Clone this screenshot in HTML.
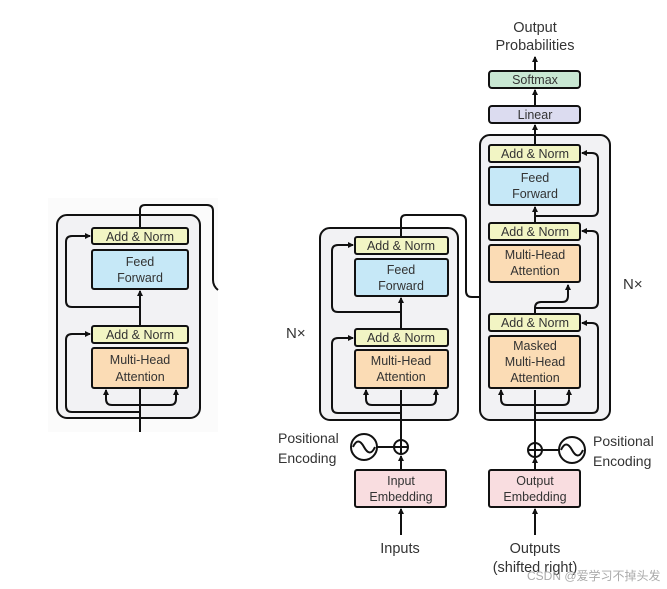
<!DOCTYPE html>
<html><head><meta charset="utf-8"><style>
html,body{margin:0;padding:0;background:#fff;}
svg{display:block;}
text{font-family:"Liberation Sans","Noto Sans CJK SC",sans-serif;}
.b{font-size:12.5px;}
.l{font-size:14px;}
</style></head><body>
<svg width="667" height="589" viewBox="0 0 667 589" xmlns="http://www.w3.org/2000/svg">
<defs>
<marker id="a" markerWidth="6" markerHeight="6" refX="5" refY="3" orient="auto" markerUnits="userSpaceOnUse"><path d="M0,0 L6,3 L0,6 z" fill="#111"/></marker>
</defs>
<!-- LEFT PANEL -->
<rect x="48" y="198" width="170" height="234" fill="#fbfbfb"/>
<rect x="57" y="215" width="143" height="203" rx="10" fill="#f2f2f4" stroke="#111" stroke-width="2"/>
<g fill="none" stroke="#111" stroke-width="2">
<path d="M140 432 V350"/>
<path d="M140 412 H72 Q66 412 66 406 V340 Q66 334 72 334 H90" marker-end="url(#a)"/>
<path d="M140 405 H112 Q106 405 106 399 V390" marker-end="url(#a)"/>
<path d="M140 405 H170 Q176 405 176 399 V390" marker-end="url(#a)"/>
<path d="M140 326 V291" marker-end="url(#a)"/>
<path d="M140 307 H72 Q66 307 66 301 V242 Q66 236 72 236 H90" marker-end="url(#a)"/>
<path d="M140 228 V210 Q140 205 145 205 H207 Q213 205 213 211 V280 Q213 286 218 290"/>
</g>
<rect x="92" y="228" width="96" height="16" rx="2" fill="#f2f5c4" stroke="#111" stroke-width="2"/>
<text x="140" y="241" class="b" text-anchor="middle" fill="#333">Add &amp; Norm</text>
<rect x="92" y="250" width="96" height="39" rx="2" fill="#c6e8f7" stroke="#111" stroke-width="2"/>
<text x="140" y="266" class="b" text-anchor="middle" fill="#333">Feed</text>
<text x="140" y="282" class="b" text-anchor="middle" fill="#333">Forward</text>
<rect x="92" y="326" width="96" height="17" rx="2" fill="#f2f5c4" stroke="#111" stroke-width="2"/>
<text x="140" y="339" class="b" text-anchor="middle" fill="#333">Add &amp; Norm</text>
<rect x="92" y="348" width="96" height="40" rx="2" fill="#fbdcb5" stroke="#111" stroke-width="2"/>
<text x="140" y="364" class="b" text-anchor="middle" fill="#333">Multi-Head</text>
<text x="140" y="381" class="b" text-anchor="middle" fill="#333">Attention</text>

<!-- ENCODER -->
<rect x="320" y="228" width="138" height="192" rx="10" fill="#f2f2f4" stroke="#111" stroke-width="2"/>
<g fill="none" stroke="#111" stroke-width="2">
<path d="M401 535 V509" marker-end="url(#a)"/>
<path d="M401 470 V456" marker-end="url(#a)"/>
<path d="M401 440 V390"/>
<path d="M401 413 H338 Q332 413 332 407 V344 Q332 338 338 338 H353" marker-end="url(#a)"/>
<path d="M401 405 H372 Q366 405 366 399 V390" marker-end="url(#a)"/>
<path d="M401 405 H430 Q436 405 436 399 V390" marker-end="url(#a)"/>
<path d="M401 329 V298" marker-end="url(#a)"/>
<path d="M401 312 H338 Q332 312 332 306 V251 Q332 245 338 245 H353" marker-end="url(#a)"/>
<path d="M401 237 V220 Q401 215 406 215 H460 Q466 215 466 221 V291 Q466 297 472 297 H495 Q501 297 501 291 V285" marker-end="url(#a)"/>
<path d="M501 297 H529 Q535 297 535 291 V285" marker-end="url(#a)"/>
<circle cx="401" cy="447" r="7"/>
<path d="M394 447 H408 M401 440 V454"/>
<path d="M377 447 H394"/>
<circle cx="364" cy="447" r="13"/>
<path d="M353 447 Q358 436 364 447 Q370 458 375 447"/>
</g>
<rect x="355" y="237" width="93" height="17" rx="2" fill="#f2f5c4" stroke="#111" stroke-width="2"/>
<text x="401" y="250" class="b" text-anchor="middle" fill="#333">Add &amp; Norm</text>
<rect x="355" y="259" width="93" height="37" rx="2" fill="#c6e8f7" stroke="#111" stroke-width="2"/>
<text x="401" y="274" class="b" text-anchor="middle" fill="#333">Feed</text>
<text x="401" y="290" class="b" text-anchor="middle" fill="#333">Forward</text>
<rect x="355" y="329" width="93" height="17" rx="2" fill="#f2f5c4" stroke="#111" stroke-width="2"/>
<text x="401" y="342" class="b" text-anchor="middle" fill="#333">Add &amp; Norm</text>
<rect x="355" y="350" width="93" height="38" rx="2" fill="#fbdcb5" stroke="#111" stroke-width="2"/>
<text x="401" y="365" class="b" text-anchor="middle" fill="#333">Multi-Head</text>
<text x="401" y="381" class="b" text-anchor="middle" fill="#333">Attention</text>
<text x="286" y="338" font-size="15" fill="#333">N×</text>
<text x="278" y="443" class="l" fill="#333">Positional</text>
<text x="278" y="463" class="l" fill="#333">Encoding</text>
<rect x="355" y="470" width="91" height="37" rx="2" fill="#f9dde0" stroke="#111" stroke-width="2"/>
<text x="401" y="485" class="b" text-anchor="middle" fill="#333">Input</text>
<text x="401" y="501" class="b" text-anchor="middle" fill="#333">Embedding</text>
<text x="400" y="553" font-size="14.5" text-anchor="middle" fill="#333">Inputs</text>

<!-- DECODER -->
<rect x="480" y="135" width="130" height="285" rx="10" fill="#f2f2f4" stroke="#111" stroke-width="2"/>
<g fill="none" stroke="#111" stroke-width="2">
<path d="M535 535 V509" marker-end="url(#a)"/>
<path d="M535 470 V458" marker-end="url(#a)"/>
<path d="M535 443 V390"/>
<path d="M535 413 H592 Q598 413 598 407 V329 Q598 323 592 323 H582" marker-end="url(#a)"/>
<path d="M535 405 H507 Q501 405 501 399 V390" marker-end="url(#a)"/>
<path d="M535 405 H563 Q569 405 569 399 V390" marker-end="url(#a)"/>
<path d="M535 314 V308 Q535 302 541 302 H562 Q568 302 568 296 V285" marker-end="url(#a)"/>
<path d="M535 308 H592 Q598 308 598 302 V237 Q598 231 592 231 H582" marker-end="url(#a)"/>
<path d="M535 223 V207" marker-end="url(#a)"/>
<path d="M535 216 H592 Q598 216 598 210 V159 Q598 153 592 153 H582" marker-end="url(#a)"/>
<path d="M535 145 V125" marker-end="url(#a)"/>
<path d="M535 106 V90" marker-end="url(#a)"/>
<path d="M535 71 V57" marker-end="url(#a)"/>
<circle cx="535" cy="450" r="7"/>
<path d="M528 450 H542 M535 443 V457"/>
<path d="M542 450 H559"/>
<circle cx="572" cy="450" r="13"/>
<path d="M561 450 Q566 439 572 450 Q578 461 583 450"/>
</g>
<rect x="489" y="145" width="91" height="17" rx="2" fill="#f2f5c4" stroke="#111" stroke-width="2"/>
<text x="535" y="158" class="b" text-anchor="middle" fill="#333">Add &amp; Norm</text>
<rect x="489" y="167" width="91" height="38" rx="2" fill="#c6e8f7" stroke="#111" stroke-width="2"/>
<text x="535" y="182" class="b" text-anchor="middle" fill="#333">Feed</text>
<text x="535" y="198" class="b" text-anchor="middle" fill="#333">Forward</text>
<rect x="489" y="223" width="91" height="17" rx="2" fill="#f2f5c4" stroke="#111" stroke-width="2"/>
<text x="535" y="236" class="b" text-anchor="middle" fill="#333">Add &amp; Norm</text>
<rect x="489" y="245" width="91" height="37" rx="2" fill="#fbdcb5" stroke="#111" stroke-width="2"/>
<text x="535" y="259" class="b" text-anchor="middle" fill="#333">Multi-Head</text>
<text x="535" y="275" class="b" text-anchor="middle" fill="#333">Attention</text>
<rect x="489" y="314" width="91" height="17" rx="2" fill="#f2f5c4" stroke="#111" stroke-width="2"/>
<text x="535" y="327" class="b" text-anchor="middle" fill="#333">Add &amp; Norm</text>
<rect x="489" y="336" width="91" height="52" rx="2" fill="#fbdcb5" stroke="#111" stroke-width="2"/>
<text x="535" y="350" class="b" text-anchor="middle" fill="#333">Masked</text>
<text x="535" y="366" class="b" text-anchor="middle" fill="#333">Multi-Head</text>
<text x="535" y="382" class="b" text-anchor="middle" fill="#333">Attention</text>
<rect x="489" y="106" width="91" height="17" rx="3" fill="#dcdcf0" stroke="#111" stroke-width="2"/>
<text x="535" y="119" class="b" text-anchor="middle" fill="#333">Linear</text>
<rect x="489" y="71" width="91" height="17" rx="3" fill="#c9e8d3" stroke="#111" stroke-width="2"/>
<text x="535" y="84" class="b" text-anchor="middle" fill="#333">Softmax</text>
<text x="535" y="32" font-size="14.5" text-anchor="middle" fill="#333">Output</text>
<text x="535" y="50" font-size="14.5" text-anchor="middle" fill="#333">Probabilities</text>
<text x="623" y="289" font-size="15" fill="#333">N×</text>
<text x="593" y="446" class="l" fill="#333">Positional</text>
<text x="593" y="466" class="l" fill="#333">Encoding</text>
<rect x="489" y="470" width="91" height="37" rx="2" fill="#f9dde0" stroke="#111" stroke-width="2"/>
<text x="535" y="485" class="b" text-anchor="middle" fill="#333">Output</text>
<text x="535" y="501" class="b" text-anchor="middle" fill="#333">Embedding</text>
<text x="535" y="553" font-size="14.5" text-anchor="middle" fill="#333">Outputs</text>
<text x="535" y="572" font-size="14.5" text-anchor="middle" fill="#333">(shifted right)</text>
<text x="527" y="580" font-size="12" fill="#aaa">CSDN @爱学习不掉头发</text>
</svg>
</body></html>
